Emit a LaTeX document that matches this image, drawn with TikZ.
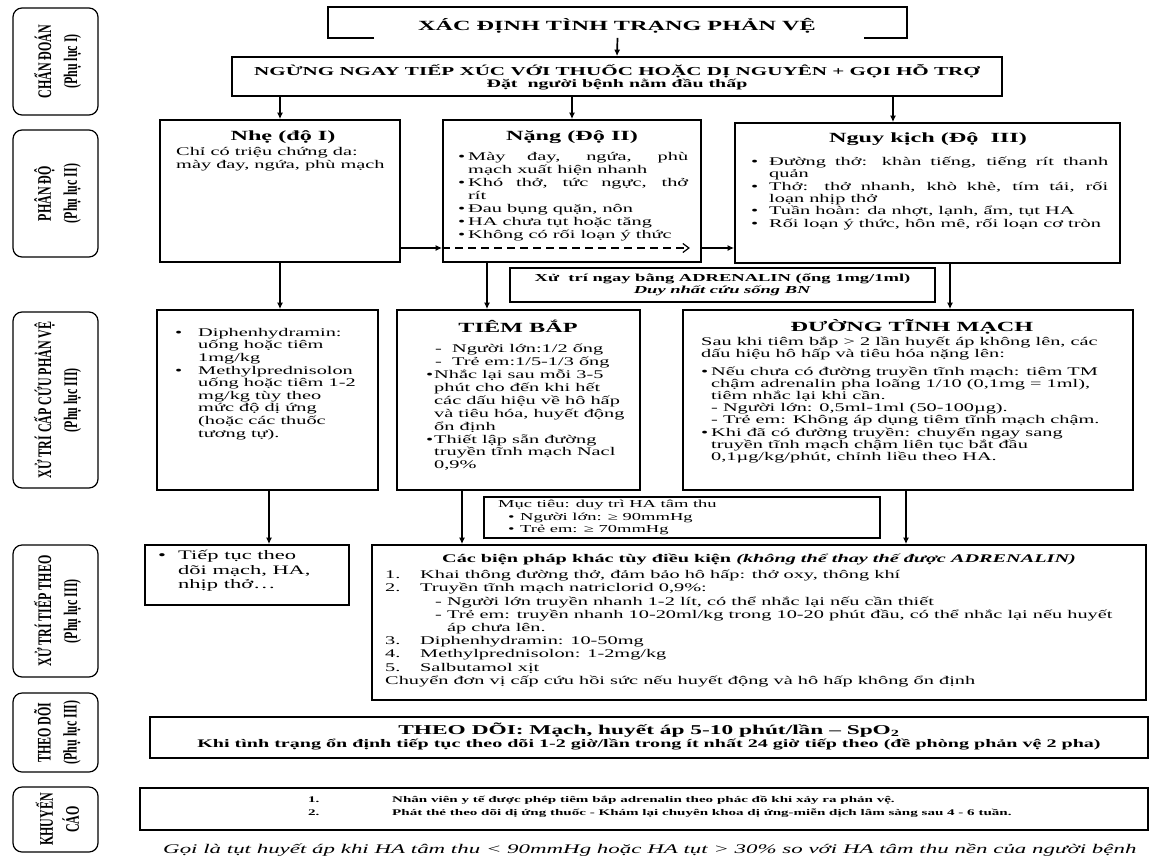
\documentclass[tikz,border=0pt]{standalone}
\usepackage{fontspec}
\setmainfont{Liberation Serif}[FakeStretch=1.73]
\newfontfamily\sidefont{Liberation Serif}[FakeStretch=0.625]
\usetikzlibrary{arrows.meta,calc,fit}
\newcommand\fsz[2]{\fontsize{#1}{#2}\selectfont}
\newcommand\mybul[1]{\par\hangindent=#1pt\hangafter=1\noindent\makebox[#1pt][l]{\textbullet}\ignorespaces}
\newcommand\bx[1]{\makebox[#1pt][l]{\textbullet}}
\newcommand\ind[1]{\hspace*{#1pt}}
\begin{document}
\begin{tikzpicture}[x=1pt,y=-1pt,
 box/.style={draw, line width=1.7pt, inner sep=0pt, fit={#1}},
 sbox/.style={draw, line width=1.2pt, rounded corners=9pt, inner sep=0pt, fit={#1}},
 arr/.style={line width=1.7pt, -{Latex[length=6.5pt,width=6pt]}},
 dsh/.style={line width=1.2pt, dash pattern=on 8pt off 5pt, -{Straight Barb[length=6pt,width=9pt]}},
 txt/.style={inner sep=0pt, anchor=north west, align=left},
 ctr/.style={inner sep=0pt, align=center},
 sidet/.style={rotate=90, align=center, inner sep=0pt, font=\sidefont\bfseries\fsz{19.2}{26}},
]
\useasboundingbox (0,0) rectangle (1151,855);
\fill[white] (0,0) rectangle (1151,855);

% ---------- sidebar ----------
\node[sbox={(13,8) (98,115)}] (s1) {};
\node[sidet] (s1t) at ($(s1.center)+(2,0)$) {CHẨN ĐOÁN\\(Phụ lục I)};
\node[sbox={(13,130) (98,257)}] (s2) {};
\node[sidet] (s2t) at ($(s2.center)+(2,0)$) {PHÂN ĐỘ\\(Phụ lục II)};
\node[sbox={(13,312) (98,488)}] (s3) {};
\node[sidet] (s3t) at ($(s3.center)+(2,0)$) {XỬ TRÍ CẤP CỨU PHẢN VỆ\\(Phụ lục III)};
\node[sbox={(13,545) (98,677)}] (s4) {};
\node[sidet] (s4t) at ($(s4.center)+(2,0)$) {XỬ TRÍ TIẾP THEO\\(Phụ lục III)};
\node[sbox={(13,693) (98,772)}] (s5) {};
\node[sidet] (s5t) at ($(s5.center)+(2,0)$) {THEO DÕI\\(Phụ lục III)};
\node[sbox={(13,787) (98,852)}] (s6) {};
\node[sidet] (s6t) at ($(s6.center)+(2,0)$) {KHUYẾN\\CÁO};

% ---------- top ----------
\node[box={(329,8) (906,37)}, draw=none] (top) {};
\draw[line width=1.7pt] ($(top.south west)+(46,0)$) -- (top.south west) -- (top.north west) -- (top.north east) -- (top.south east) -- ($(top.south east)+(-43,0)$);
\node[ctr, font=\bfseries\fsz{14}{16}] (topt) at (617,26) {XÁC ĐỊNH TÌNH TRẠNG PHẢN VỆ};

\node[box={(232,57) (1002,96)}] (ngung) {};
\draw[arr] (top.south) -- (ngung.north);
\node[ctr, font=\bfseries\fsz{12.2}{15}] (ng1) at (617,71) {NGỪNG NGAY TIẾP XÚC VỚI THUỐC HOẶC DỊ NGUYÊN + GỌI HỖ TRỢ};
\node[ctr, font=\bfseries\fsz{11.5}{14}] (ng2) at (617,85) {Đặt\ \ người bệnh nằm đầu thấp};

% ---------- grades ----------
\node[box={(160,120) (400,262)}] (nhe) {};
\node[box={(443,120) (701,262)}] (nang) {};
\node[box={(735,123) (1120,263)}] (nguy) {};
\coordinate (c1) at (893,0);
\draw[arr] (ngung.south -| nhe.north) -- (nhe.north);
\draw[arr] (ngung.south -| nang.north) -- (nang.north);
\draw[arr] (ngung.south -| c1) -- (nguy.north -| c1);

\node[ctr, font=\bfseries\fsz{14}{17}] (nhet) at (283,137) {Nhẹ (độ I)};
\node[txt, font=\fsz{11.75}{13}] (nheb) at (176,147) {Chỉ có triệu chứng da:\\mày đay, ngứa, phù mạch};

\node[ctr, font=\bfseries\fsz{14}{17}] (nangt) at (572,137) {Nặng (Độ II)};
\node[txt, text width=230pt, align=justify, font=\fsz{11.75}{13}] (nangb) at (458,147) {\mybul{10}Mày đay, ngứa, phù\linebreak mạch xuất hiện nhanh\mybul{10}Khó thở, tức ngực, thở\linebreak rít\mybul{10}Đau bụng quặn, nôn\mybul{10}HA chưa tụt hoặc tăng\mybul{10}Không có rối loạn ý thức};

\node[ctr, font=\bfseries\fsz{14}{17}] (nguyt) at (928,139) {Nguy kịch (Độ\ \ III)};
\node[txt, text width=357pt, align=justify, font=\fsz{11.75}{12.3}] (nguyb) at (751,153) {\mybul{18}Đường thở: khàn tiếng, tiếng rít thanh\linebreak quản\mybul{18}Thở: thở nhanh, khò khè, tím tái, rối\linebreak loạn nhịp thở\mybul{18}Tuần hoàn: da nhợt, lạnh, ẩm, tụt HA\mybul{18}Rối loạn ý thức, hôn mê, rối loạn cơ tròn};

\coordinate (dy) at (0,248);
\draw[arr] (nhe.east |- dy) -- (nang.west |- dy);
\draw[dsh] (nang.west |- dy) -- ($(nang.east |- dy)+(-12,0)$);
\draw[arr] (nang.east |- dy) -- (nguy.west |- dy);

% ---------- treatment ----------
\node[box={(510,268) (935,302)}] (adr) {};
\node[ctr, font=\bfseries\fsz{10.7}{12.5}] (adrt) at (adr.center) {Xử\ \ trí ngay bằng ADRENALIN (ống 1mg/1ml)\\\textit{Duy nhất cứu sống BN}};

\node[box={(157,310) (378,490)}] (lb) {};
\node[box={(397,310) (640,490)}] (tb) {};
\node[box={(683,310) (1133,490)}] (dtm) {};
\coordinate (c2) at (487,0);
\coordinate (c3) at (950,0);
\draw[arr] (nhe.south) -- (nhe.south |- lb.north);
\draw[arr] (nang.south -| c2) -- (tb.north -| c2);
\draw[arr] (nguy.south -| c3) -- (dtm.north -| c3);

\node[txt, font=\fsz{11.75}{12.6}] (lbt) at (175,328) {\bx{23}Diphenhydramin:\\\ind{23}uống hoặc tiêm\\\ind{23}1mg/kg\\\bx{23}Methylprednisolon\\\ind{23}uống hoặc tiêm 1-2\\\ind{23}mg/kg tùy theo\\\ind{23}mức độ dị ứng\\\ind{23}(hoặc các thuốc\\\ind{23}tương tự).};

\node[ctr, font=\bfseries\fsz{14}{18}] (tbt) at (518,326) {TIÊM BẮP};
\node[txt, font=\fsz{11.75}{12.9}] (tbb) at (426,344) {\ind{9}-\ \ Người lớn:1/2 ống\\\ind{9}-\ \ Trẻ em:1/5-1/3 ống\\\bx{8}Nhắc lại sau mỗi 3-5\\\ind{8}phút cho đến khi hết\\\ind{8}các dấu hiệu về hô hấp\\\ind{8}và tiêu hóa, huyết động\\\ind{8}ổn định\\\bx{8}Thiết lập sẵn đường\\\ind{8}truyền tĩnh mạch Nacl\\\ind{8}0,9\%};

\node[ctr, font=\bfseries\fsz{14}{18}] (dtmt) at (912,327) {ĐƯỜNG TĨNH MẠCH};
\node[txt, font=\fsz{11.75}{12.2}] (dtmb) at (701,337) {Sau khi tiêm bắp > 2 lần huyết áp không lên, các\\dấu hiệu hô hấp và tiêu hóa nặng lên:\\[5pt]\bx{10}Nếu chưa có đường truyền tĩnh mạch: tiêm TM\\\ind{10}chậm adrenalin pha loãng 1/10 (0,1mg = 1ml),\\\ind{10}tiêm nhắc lại khi cần.\\\ind{10}- Người lớn: 0,5ml-1ml (50-100µg).\\\ind{10}- Trẻ em: Không áp dụng tiêm tĩnh mạch chậm.\\\bx{10}Khi đã có đường truyền: chuyển ngay sang\\\ind{10}truyền tĩnh mạch chậm liên tục bắt đầu\\\ind{10}0,1µg/kg/phút, chỉnh liều theo HA.};

% ---------- follow-up ----------
\node[box={(484,497) (880,538)}] (muc) {};
\node[txt, font=\fsz{10.7}{12.5}] (muct) at (498,500) {Mục tiêu: duy trì HA tâm thu\\\ind{10}\bx{12}Người lớn: ≥ 90mmHg\\\ind{10}\bx{12}Trẻ em: ≥ 70mmHg};

\node[box={(145,545) (349,605)}] (tiep) {};
\coordinate (c4) at (269,0);
\draw[arr] (lb.south -| c4) -- (tiep.north -| c4);
\node[txt, font=\fsz{13}{14.5}] (tiept) at (158,550) {\bx{20}Tiếp tục theo\\\ind{20}dõi mạch, HA,\\\ind{20}nhịp thở…};

\node[box={(372,545) (1146,700)}] (cbp) {};
\coordinate (c5) at (462,0);
\coordinate (c6) at (906,0);
\draw[arr] (tb.south -| c5) -- (cbp.north -| c5);
\draw[arr] (dtm.south -| c6) -- (cbp.north -| c6);
\node[ctr, font=\bfseries\fsz{11.7}{14}] (cbpt) at (759,559) {Các biện pháp khác tùy điều kiện \textit{(không thể thay thế được ADRENALIN)}};
\node[txt, font=\fsz{11.75}{13.2}] (cbpb) at (385,570) {\makebox[35pt][l]{1.}Khai thông đường thở, đảm bảo hô hấp: thở oxy, thông khí\\\makebox[35pt][l]{2.}Truyền tĩnh mạch natriclorid 0,9\%:\\\ind{50}- Người lớn truyền nhanh 1-2 lít, có thể nhắc lại nếu cần thiết\\\ind{50}- Trẻ em: truyền nhanh 10-20ml/kg trong 10-20 phút đầu, có thể nhắc lại nếu huyết\\\ind{62}áp chưa lên.\\\makebox[35pt][l]{3.}Diphenhydramin: 10-50mg\\\makebox[35pt][l]{4.}Methylprednisolon: 1-2mg/kg\\\makebox[35pt][l]{5.}Salbutamol xịt\\Chuyển đơn vị cấp cứu hồi sức nếu huyết động và hô hấp không ổn định};

% ---------- monitoring ----------
\node[box={(150,717) (1148,758)}] (theo) {};
\node[ctr, font=\bfseries\fsz{13.5}{15}] (theo1) at (649,730) {THEO DÕI: Mạch, huyết áp 5-10 phút/lần – SpO\textsubscript{2}};
\node[ctr, font=\bfseries\fsz{11.6}{15}] (theo2) at (649,745) {Khi tình trạng ổn định tiếp tục theo dõi 1-2 giờ/lần trong ít nhất 24 giờ tiếp theo (đề phòng phản vệ 2 pha)};

\node[box={(140,788) (1148,830)}] (kc) {};
\node[txt, font=\bfseries\fsz{8.7}{13}] (kct) at (308,796) {\makebox[84pt][l]{1.}Nhân viên y tế được phép tiêm bắp adrenalin theo phác đồ khi xảy ra phản vệ.\\\makebox[84pt][l]{2.}Phát thẻ theo dõi dị ứng thuốc - Khám lại chuyên khoa dị ứng-miễn dịch lâm sàng sau 4 - 6 tuần.};

\node[txt, font=\itshape\fsz{13.25}{16}] (note) at (163,844) {Gọi là tụt huyết áp khi HA tâm thu < 90mmHg hoặc HA tụt > 30\% so với HA tâm thu nền của người bệnh};
\end{tikzpicture}
\end{document}
